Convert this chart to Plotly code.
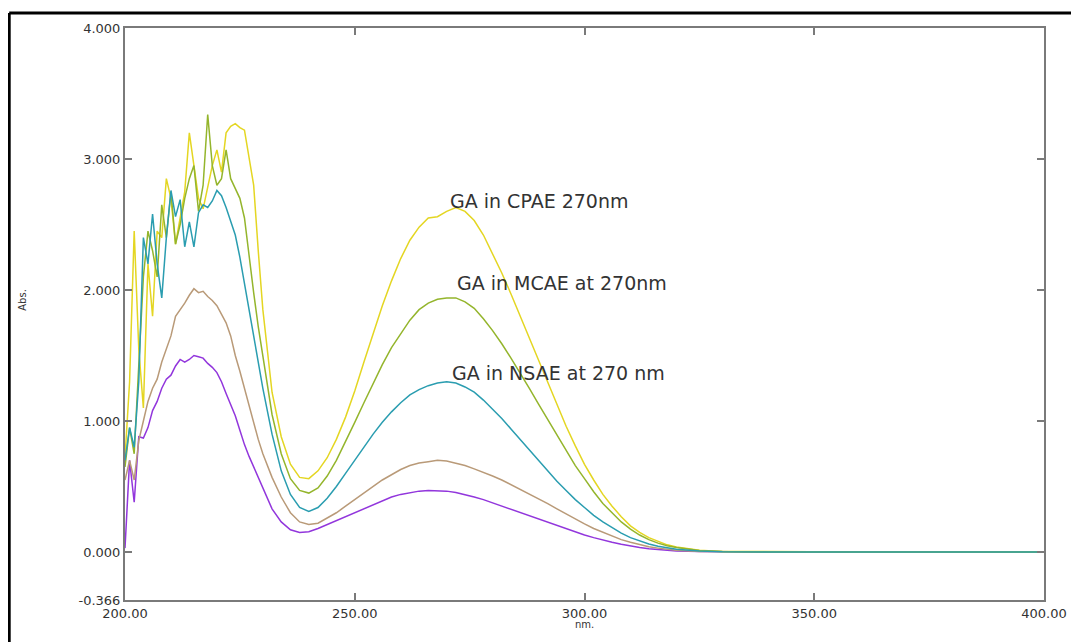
import plotly.graph_objects as go

# Wavelength grid (nm)
wl_noisy = list(range(200, 230))            # 200..229
wl_smooth = list(range(230, 321, 2))        # 230..320
wl_tail = [325, 330, 340, 350, 360, 370, 380, 390, 400]
wavelength = wl_noisy + wl_smooth + wl_tail

# Absorbance values
cpae = ([0.72, 1.30, 2.45, 1.55, 1.10, 2.20, 1.80, 2.45, 2.40, 2.85,
         2.70, 2.35, 2.55, 2.75, 3.20, 2.95, 2.70, 2.62, 2.80, 2.95,
         3.07, 2.90, 3.20, 3.25, 3.27, 3.24, 3.22, 3.00, 2.80, 2.30] +
        [1.85, 1.22, 0.88, 0.67, 0.57, 0.56, 0.62, 0.72, 0.86, 1.03,
         1.23, 1.45, 1.67, 1.88, 2.07, 2.24, 2.38, 2.48, 2.55, 2.56,
         2.60, 2.63, 2.60, 2.53, 2.42, 2.28, 2.13, 1.97, 1.80, 1.63,
         1.46, 1.29, 1.12, 0.96, 0.81, 0.67, 0.55, 0.44, 0.35, 0.27,
         0.20, 0.15, 0.11, 0.08, 0.055, 0.038] +
        [0.014, 0.005, 0.002, 0.001, 0.001, 0.001, 0.001, 0.001, 0.001])

mcae = ([0.65, 0.95, 0.75, 1.40, 2.10, 2.45, 2.30, 2.10, 2.65, 2.40,
         2.75, 2.35, 2.50, 2.70, 2.85, 2.95, 2.60, 2.80, 3.34, 2.95,
         2.80, 2.85, 3.07, 2.85, 2.78, 2.70, 2.55, 2.25, 1.98, 1.72] +
        [1.50, 1.05, 0.75, 0.56, 0.47, 0.45, 0.49, 0.58, 0.70, 0.84,
         0.99, 1.14, 1.29, 1.43, 1.56, 1.67, 1.77, 1.85, 1.90, 1.93,
         1.94, 1.94, 1.91, 1.86, 1.78, 1.69, 1.59, 1.48, 1.37, 1.25,
         1.13, 1.01, 0.89, 0.77, 0.66, 0.56, 0.46, 0.37, 0.30, 0.23,
         0.175, 0.13, 0.095, 0.068, 0.048, 0.034] +
        [0.012, 0.004, 0.001, 0.001, 0.001, 0.001, 0.001, 0.001, 0.001])

nsae = ([0.70, 0.95, 0.80, 1.30, 2.40, 2.20, 2.58, 2.20, 1.94, 2.40,
         2.76, 2.56, 2.69, 2.33, 2.52, 2.33, 2.59, 2.65, 2.63, 2.68,
         2.76, 2.72, 2.63, 2.52, 2.42, 2.25, 2.05, 1.85, 1.65, 1.45] +
        [1.25, 0.90, 0.62, 0.44, 0.34, 0.31, 0.34, 0.41, 0.50, 0.60,
         0.70, 0.80, 0.90, 0.99, 1.07, 1.14, 1.20, 1.24, 1.27, 1.29,
         1.30, 1.29, 1.26, 1.22, 1.16, 1.09, 1.02, 0.94, 0.86, 0.78,
         0.70, 0.62, 0.54, 0.47, 0.40, 0.34, 0.28, 0.23, 0.185, 0.145,
         0.11, 0.085, 0.062, 0.045, 0.032, 0.022] +
        [0.008, 0.003, 0.001, 0.001, 0.001, 0.001, 0.001, 0.001, 0.001])

brown = ([0.55, 0.70, 0.55, 0.85, 1.00, 1.15, 1.25, 1.32, 1.45, 1.55,
          1.65, 1.80, 1.85, 1.90, 1.96, 2.01, 1.98, 1.99, 1.95, 1.92,
          1.88, 1.82, 1.75, 1.65, 1.50, 1.38, 1.25, 1.10, 0.97, 0.86] +
         [0.75, 0.57, 0.42, 0.30, 0.23, 0.21, 0.22, 0.26, 0.30, 0.35,
          0.40, 0.45, 0.50, 0.55, 0.59, 0.63, 0.66, 0.68, 0.69, 0.70,
          0.695, 0.68, 0.66, 0.635, 0.61, 0.58, 0.55, 0.515, 0.48, 0.445,
          0.41, 0.37, 0.33, 0.29, 0.25, 0.215, 0.18, 0.15, 0.12, 0.095,
          0.075, 0.055, 0.04, 0.03, 0.02, 0.013] +
         [0.005, 0.002, 0.001, 0.001, 0.001, 0.001, 0.001, 0.001, 0.001])

purple = ([0.03, 0.70, 0.38, 0.88, 0.87, 0.95, 1.08, 1.15, 1.25, 1.32,
           1.35, 1.42, 1.47, 1.45, 1.47, 1.50, 1.49, 1.48, 1.44, 1.41,
           1.37, 1.30, 1.21, 1.13, 1.04, 0.93, 0.82, 0.73, 0.65, 0.56] +
          [0.48, 0.33, 0.23, 0.17, 0.15, 0.155, 0.18, 0.21, 0.24, 0.27,
           0.30, 0.33, 0.36, 0.39, 0.42, 0.44, 0.455, 0.465, 0.47, 0.47,
           0.465, 0.455, 0.44, 0.42, 0.40, 0.375, 0.35, 0.325, 0.30, 0.275,
           0.25, 0.225, 0.20, 0.175, 0.15, 0.13, 0.11, 0.09, 0.075, 0.06,
           0.045, 0.035, 0.025, 0.018, 0.012, 0.008] +
          [0.004, 0.002, 0.001, 0.001, 0.001, 0.001, 0.001, 0.001, 0.001])

series = [
    ("purple", purple, "#9236dc"),
    ("brown", brown, "#b99a78"),
    ("CPAE", cpae, "#e4d622"),
    ("MCAE", mcae, "#94b52c"),
    ("NSAE", nsae, "#2a9db0"),
]
for _, vals, _ in series:
    assert len(vals) == len(wavelength)

x_ticks = [200, 250, 300, 350, 400]
x_ticktext = ["200.00", "250.00", "300.00", "350.00", "400.00"]
y_ticks = [-0.366, 0, 1, 2, 3, 4]
y_ticktext = ["-0.366", "0.000", "1.000", "2.000", "3.000", "4.000"]

labels = [
    ("GA in CPAE 270nm", 290.3, 2.68),
    ("GA in MCAE at 270nm", 295.0, 2.05),
    ("GA in NSAE at 270 nm", 294.4, 1.37),
]

fig = go.Figure()
for name, vals, color in series:
    fig.add_trace(go.Scatter(x=wavelength, y=vals, mode="lines", name=name,
                             line=dict(color=color, width=1.5),
                             showlegend=False, hoverinfo="skip"))

axis_common = dict(showgrid=False, zeroline=False, showline=True,
                   linecolor="#7a7a7a", linewidth=2, mirror="ticks",
                   ticks="inside", ticklen=7, tickcolor="#7a7a7a", tickwidth=2,
                   tickfont=dict(family="DejaVu Sans", size=13, color="#333333"))

fig.update_xaxes(range=[200, 400], tickvals=x_ticks, ticktext=x_ticktext, **axis_common)
fig.update_yaxes(range=[-0.366, 4.0], tickvals=y_ticks, ticktext=y_ticktext, **axis_common)

annotations = []
for text, xv, yv in labels:
    annotations.append(dict(x=xv, y=yv, xref="x", yref="y", text=text, showarrow=False,
                            xanchor="center", yanchor="middle",
                            font=dict(family="DejaVu Sans", size=19, color="#333333")))
annotations.append(dict(x=-0.1194, y=0.5245, xref="paper", yref="paper", text="Abs.",
                        textangle=-90, showarrow=False,
                        font=dict(family="DejaVu Sans", size=10, color="#333333")))
annotations.append(dict(x=0.4995, y=-0.042, xref="paper", yref="paper", text="nm.",
                        showarrow=False, yanchor="middle",
                        font=dict(family="DejaVu Sans", size=10, color="#333333")))

shapes = [
    dict(type="line", xref="paper", yref="paper", x0=-0.126, x1=1.04, y0=1.0262, y1=1.0262,
         line=dict(color="black", width=3)),
    dict(type="line", xref="paper", yref="paper", x0=-0.126, x1=-0.126, y0=1.0262, y1=-0.08,
         line=dict(color="black", width=3)),
]

# page body has an 8px margin, so the figure is sized/placed to compensate
fig.update_layout(width=1071, height=634,
                  margin=dict(l=117, r=33, t=20, b=42),
                  paper_bgcolor="white", plot_bgcolor="white",
                  annotations=annotations, shapes=shapes)

fig.write_html("out.html")
